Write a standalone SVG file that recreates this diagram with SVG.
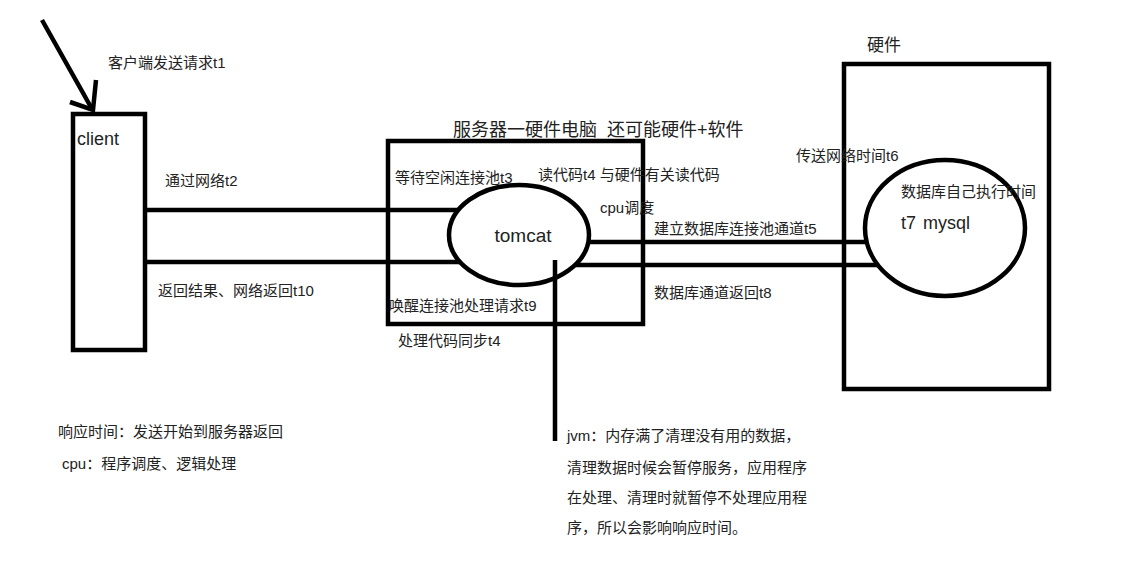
<svg xmlns="http://www.w3.org/2000/svg" width="1129" height="566" viewBox="0 0 1129 566">
<style>
.box{fill:none;stroke:#000;stroke-width:4.5}
.ln{fill:none;stroke:#000;stroke-width:4.5;stroke-linecap:butt}
text{font-family:"Liberation Sans","Noto Sans CJK SC",sans-serif;fill:#222;dominant-baseline:central}
.s15{font-size:15px}
.s18{font-size:18px}
</style>
<rect width="1129" height="566" fill="#fff"/>
<g id="connectors">
<line class="ln" x1="42" y1="20" x2="92" y2="109"/>
<polyline class="ln" points="96,80 93,110 70,102" stroke-linejoin="miter"/>
<line class="ln" x1="145" y1="210" x2="458" y2="210"/>
<line class="ln" x1="143" y1="262" x2="459" y2="262"/>
<line class="ln" x1="589" y1="242" x2="868" y2="242"/>
<line class="ln" x1="576" y1="265" x2="878" y2="265"/>
<line class="ln" x1="555" y1="260" x2="555" y2="441"/>
</g>
<g id="client">
<rect class="box" x="73" y="114" width="72" height="236"/>
<text class="s18" x="77" y="139">client</text>
</g>
<g id="server">
<rect class="box" x="388" y="141" width="255" height="183"/>
<text class="s18" x="453" y="130">服务器一硬件电脑</text>
<text class="s18" x="607" y="130">还可能硬件+软件</text>
</g>
<g id="tomcat">
<ellipse class="box" cx="519" cy="235" rx="70" ry="50"/>
<text class="s18" x="523" y="235" text-anchor="middle" style="font-size:19px">tomcat</text>
</g>
<g id="hardware">
<rect class="box" x="844" y="64" width="205" height="325"/>
<text x="867" y="45" style="font-size:17px">硬件</text>
</g>
<g id="mysql">
<ellipse class="box" cx="945" cy="228" rx="80" ry="68"/>
<text class="s15" x="901" y="191">数据库自己执行时间</text>
<text x="901" y="223" style="font-size:18px">t7<tspan x="923">mysql</tspan></text>
</g>
<g id="labels">
<text class="s15" x="108" y="62">客户端发送请求t1</text>
<text class="s15" x="165" y="180">通过网络t2</text>
<text class="s15" x="158" y="290">返回结果、网络返回t10</text>
<text class="s15" x="395" y="177">等待空闲连接池t3</text>
<text class="s15" x="538" y="174">读代码t4 与硬件有关读代码</text>
<text class="s15" x="600" y="207">cpu调度</text>
<text class="s15" x="654" y="228">建立数据库连接池通道t5</text>
<text class="s15" x="654" y="292">数据库通道返回t8</text>
<text class="s15" x="389" y="305">唤醒连接池处理请求t9</text>
<text class="s15" x="398" y="340">处理代码同步t4</text>
<text class="s15" x="796" y="155">传送网络时间t6</text>
<text class="s15" x="58" y="431">响应时间：发送开始到服务器返回</text>
<text class="s15" x="62" y="463">cpu：程序调度、逻辑处理</text>
<text class="s15" x="567" y="435">jvm：内存满了清理没有用的数据，</text>
<text class="s15" x="567" y="467">清理数据时候会暂停服务，应用程序</text>
<text class="s15" x="567" y="497">在处理、清理时就暂停不处理应用程</text>
<text class="s15" x="567" y="527">序，所以会影响响应时间。</text>
</g>
</svg>
